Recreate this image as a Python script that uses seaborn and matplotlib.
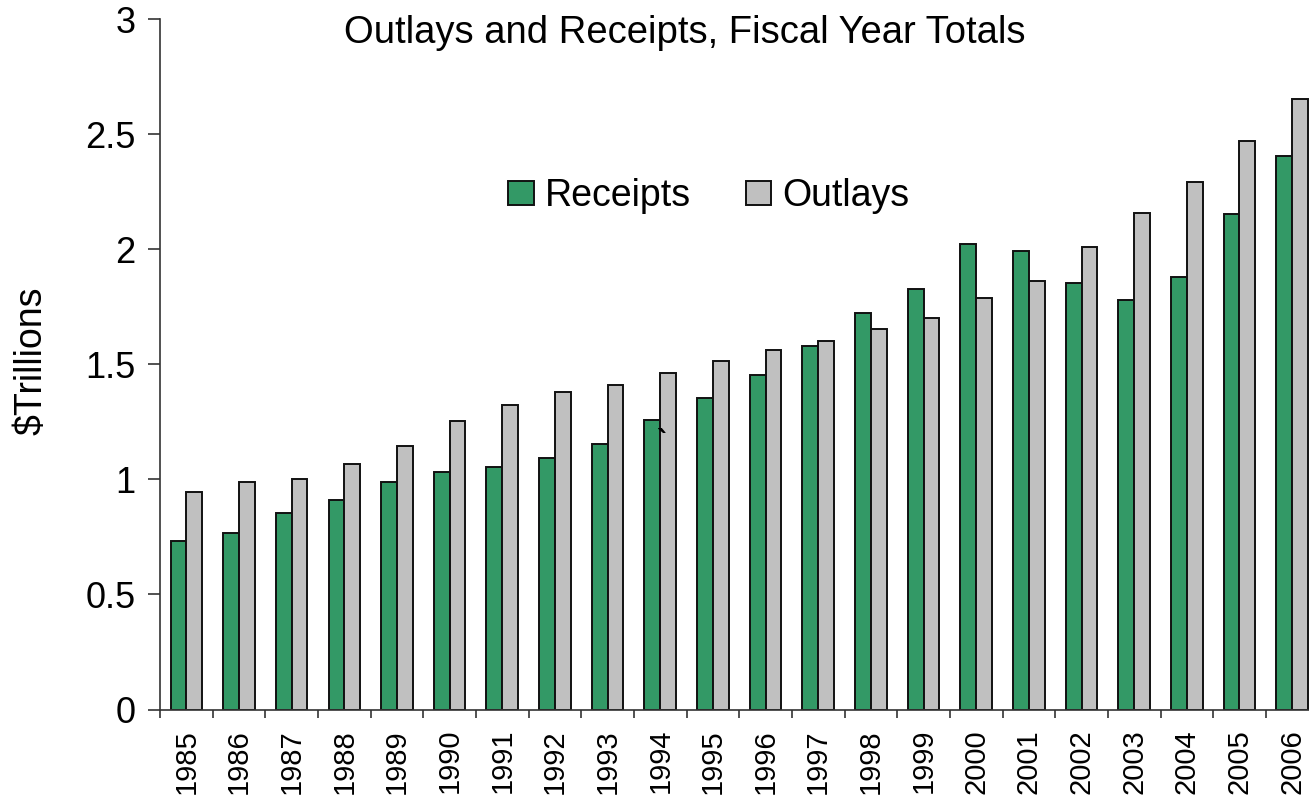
import matplotlib
matplotlib.use("Agg")
import matplotlib.pyplot as plt
import numpy as np
import pandas as pd
import seaborn as sns
from matplotlib.ticker import FixedLocator

# Federal receipts and outlays, fiscal years 1985-2006 ($ trillions)
years = ["1985", "1986", "1987", "1988", "1989", "1990", "1991", "1992",
         "1993", "1994", "1995", "1996", "1997", "1998", "1999", "2000",
         "2001", "2002", "2003", "2004", "2005", "2006"]
receipts = [0.734, 0.769, 0.854, 0.909, 0.991, 1.032, 1.055, 1.091,
            1.154, 1.259, 1.352, 1.453, 1.579, 1.722, 1.827, 2.025,
            1.991, 1.853, 1.782, 1.880, 2.154, 2.407]
outlays = [0.946, 0.990, 1.004, 1.065, 1.144, 1.253, 1.324, 1.382,
           1.410, 1.462, 1.516, 1.561, 1.601, 1.652, 1.702, 1.789,
           1.863, 2.011, 2.160, 2.293, 2.472, 2.655]
series_names = ["Receipts", "Outlays"]
series_colors = ["#339966", "#C0C0C0"]
y_ticks = [0, 0.5, 1, 1.5, 2, 2.5, 3]
y_tick_labels = ["0", "0.5", "1", "1.5", "2", "2.5", "3"]

df = pd.DataFrame({
    "year": years * 2,
    "value": receipts + outlays,
    "series": [series_names[0]] * len(years) + [series_names[1]] * len(years),
})

sns.set_theme(style="white")
plt.rcParams["font.family"] = ["Liberation Sans", "DejaVu Sans"]
plt.rcParams["text.color"] = "black"

W, H = 1309, 795
fig = plt.figure(figsize=(W / 100, H / 100), dpi=100)
ax_left, ax_right, ax_bottom, ax_top = 160, 1309, 709.5, 19.3
ax = fig.add_axes([ax_left / W, 1 - ax_bottom / H,
                   (ax_right - ax_left) / W, (ax_bottom - ax_top) / H])

sns.barplot(data=df, x="year", y="value", hue="series", order=years,
            hue_order=series_names, palette=dict(zip(series_names, series_colors)),
            width=0.6, gap=0, edgecolor="#111111", linewidth=1.4,
            saturation=1, ax=ax, legend=True)

ax.set_ylim(0, 3)
ax.set_xlim(-0.5, 21.32)
ax.set_yticks(y_ticks)
ax.set_yticklabels(y_tick_labels, fontsize=26)
ax.set_xlabel("")
ax.set_ylabel("")

# category labels at centers, tick marks on category boundaries
ax.set_xticks(range(len(years)))
ax.set_xticklabels(years, rotation=90, fontsize=21)
ax.xaxis.set_minor_locator(FixedLocator(np.arange(-0.5, len(years) - 0.5, 1.0)))
ax.tick_params(axis="x", which="major", length=0, pad=14, colors="black")
ax.tick_params(axis="x", which="minor", bottom=True, length=6, width=1.2,
               color="#333333", direction="out")
ax.tick_params(axis="y", which="major", left=True, length=8.6, width=1.2,
               color="#333333", pad=9, labelcolor="black")

for side in ["top", "right"]:
    ax.spines[side].set_visible(False)
for side in ["left", "bottom"]:
    ax.spines[side].set_color("#333333")
    ax.spines[side].set_linewidth(1.2)

fig.text(685 / W, 1 - 43 / H, "Outlays and Receipts, Fiscal Year Totals",
         ha="center", va="baseline", fontsize=27.5, color="black")
fig.text(31.5 / W, 1 - 361 / H, "$Trillions", rotation=90,
         ha="center", va="center", fontsize=27, color="black")

# stray mark beside the 1994 outlays bar
ax.text(9.04, 1.16, "`", fontsize=22, fontweight="bold", ha="center",
        va="center", color="black")

handles, labels = ax.get_legend_handles_labels()
ax.legend(handles, labels, ncol=2, frameon=False, fontsize=27,
          labelcolor="black",
          loc="center", bbox_to_anchor=(709 / W, 1 - 196.5 / H),
          bbox_transform=fig.transFigure, borderpad=0,
          handlelength=0.68, handleheight=0.62, handletextpad=0.3,
          columnspacing=1.45)

fig.savefig("out.png", dpi=100, facecolor="white")
